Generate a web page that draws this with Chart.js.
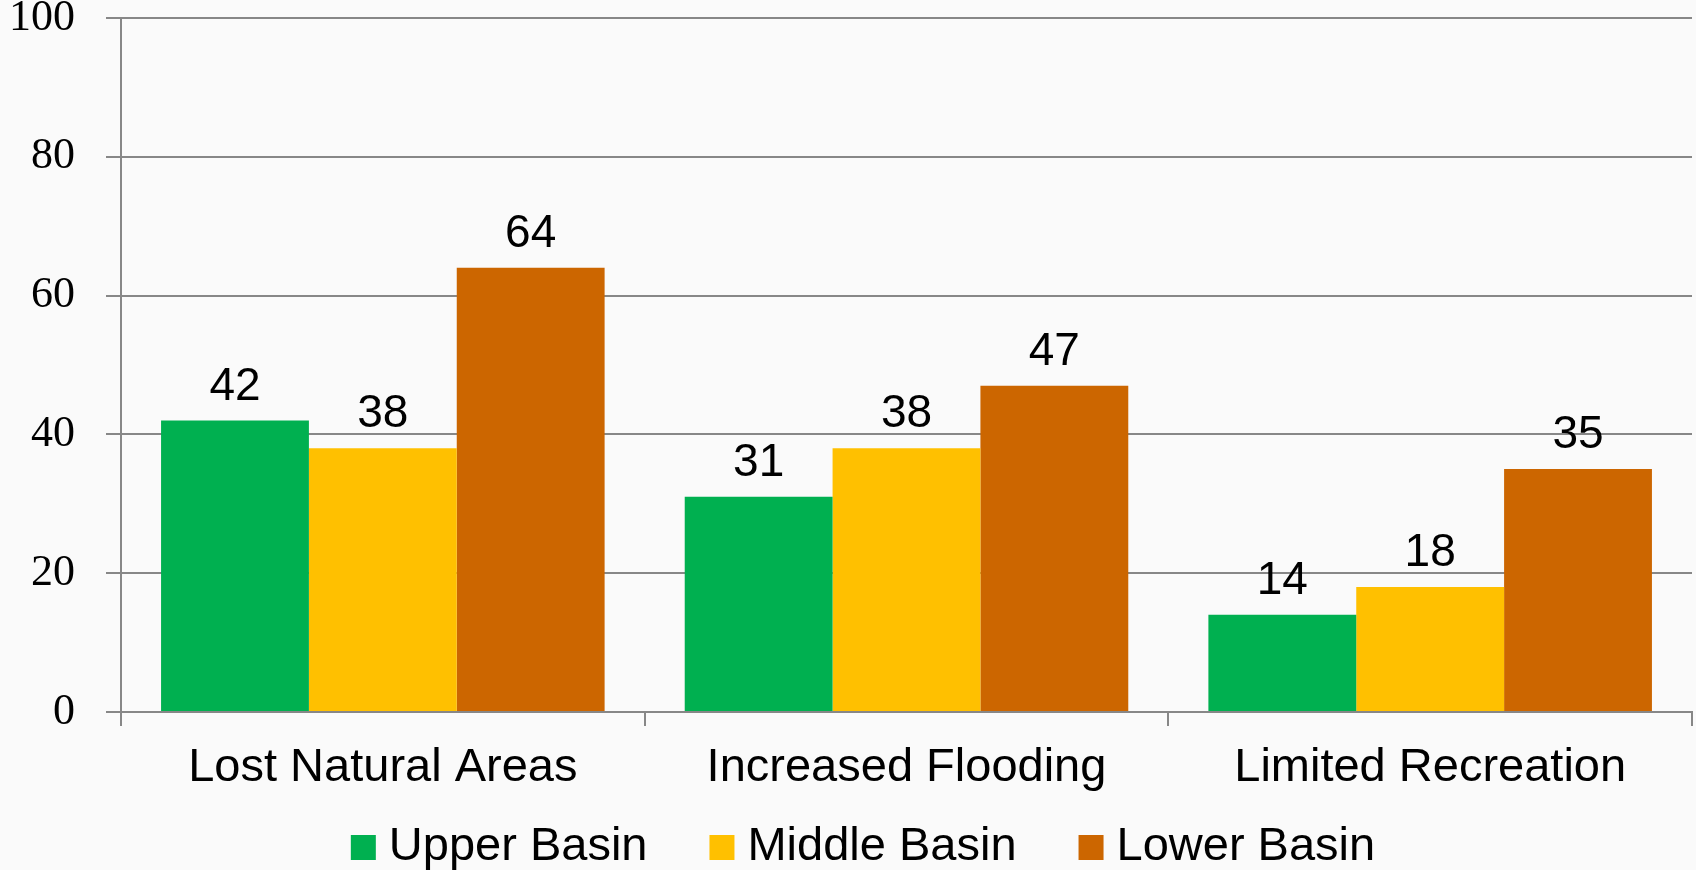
<!DOCTYPE html>
<html>
<head>
<meta charset="utf-8">
<script src="https://cdn.jsdelivr.net/npm/chart.js@4/dist/chart.umd.min.js"></script>
<style>
  html, body { margin: 0; padding: 0; background: #fafafa; overflow: hidden; }
  canvas { display: block; }
</style>
</head>
<body>
<canvas id="chart" width="1696" height="870"></canvas>
<script>
// Survey results by basin
const categories = ['Lost Natural Areas', 'Increased Flooding', 'Limited Recreation'];
const upperBasin = [42, 31, 14];
const middleBasin = [38, 38, 18];
const lowerBasin = [64, 47, 35];
const yTickValues = [0, 20, 40, 60, 80, 100];
const seriesNames = ['Upper Basin', 'Middle Basin', 'Lower Basin'];
const seriesColors = ['#00B050', '#FFC000', '#CC6600'];

const axisGray = '#878787';
const sansFamily = '"Liberation Sans", Arial, Helvetica, sans-serif';
const serifFamily = '"Liberation Serif", "Times New Roman", serif';

// Page background behind the plot
const backgroundFill = {
  id: 'backgroundFill',
  beforeDraw(chart) {
    const ctx = chart.ctx;
    ctx.save();
    ctx.fillStyle = '#fafafa';
    ctx.fillRect(0, 0, chart.width, chart.height);
    ctx.restore();
  }
};

// Value written above each bar
const valueLabels = {
  id: 'valueLabels',
  afterDatasetsDraw(chart) {
    const ctx = chart.ctx;
    ctx.save();
    ctx.font = '46px ' + sansFamily;
    ctx.fillStyle = '#000';
    ctx.textAlign = 'center';
    ctx.textBaseline = 'alphabetic';
    chart.data.datasets.forEach((ds, i) => {
      chart.getDatasetMeta(i).data.forEach((bar, j) => {
        ctx.fillText(String(ds.data[j]), bar.x, bar.y - 21);
      });
    });
    ctx.restore();
  }
};

// Series key along the bottom edge
const bottomLegend = {
  id: 'bottomLegend',
  afterDraw(chart) {
    const ctx = chart.ctx;
    const box = 25, textGap = 13, itemGap = 62, centerX = 863, boxTop = 835, baseline = 860;
    ctx.save();
    ctx.font = '47px ' + sansFamily;
    const items = chart.data.datasets.map(ds => ({
      text: ds.label, color: ds.backgroundColor, w: ctx.measureText(ds.label).width
    }));
    const total = items.reduce((s, it) => s + box + textGap + it.w, 0) + itemGap * (items.length - 1);
    let x = centerX - total / 2;
    ctx.textBaseline = 'alphabetic';
    ctx.textAlign = 'left';
    items.forEach(it => {
      ctx.fillStyle = it.color;
      ctx.fillRect(x, boxTop, box, box);
      ctx.fillStyle = '#000';
      ctx.fillText(it.text, x + box + textGap, baseline);
      x += box + textGap + it.w + itemGap;
    });
    ctx.restore();
  }
};

new Chart(document.getElementById('chart'), {
  type: 'bar',
  data: {
    labels: categories,
    datasets: [
      { label: seriesNames[0], data: upperBasin, backgroundColor: seriesColors[0] },
      { label: seriesNames[1], data: middleBasin, backgroundColor: seriesColors[1] },
      { label: seriesNames[2], data: lowerBasin, backgroundColor: seriesColors[2] }
    ]
  },
  options: {
    responsive: false,
    animation: false,
    devicePixelRatio: 1,
    categoryPercentage: 0.847,
    barPercentage: 1.0,
    layout: { padding: { top: 18, right: 4, bottom: 76, left: 0 } },
    plugins: {
      legend: { display: false },
      tooltip: { enabled: false }
    },
    scales: {
      x: {
        afterFit: s => { s.height = 82; s.paddingLeft = 0; s.paddingRight = 0; },
        border: { display: true, color: axisGray, width: 2 },
        grid: {
          display: true, drawOnChartArea: false, drawTicks: true,
          tickLength: 14, color: axisGray, lineWidth: 2, offset: true
        },
        ticks: { padding: 14, color: '#000', font: { family: sansFamily, size: 47 } }
      },
      y: {
        min: 0,
        max: 100,
        afterBuildTicks: s => { s.ticks = yTickValues.map(v => ({ value: v })); },
        afterFit: s => { s.width = 121; s.paddingTop = 0; s.paddingBottom = 0; },
        border: { display: true, color: axisGray, width: 2 },
        grid: { color: axisGray, lineWidth: 2, drawTicks: true, tickLength: 15 },
        ticks: {
          padding: 31, color: '#000',
          font: { family: serifFamily, size: 44 }
        }
      }
    }
  },
  plugins: [backgroundFill, valueLabels, bottomLegend]
});
</script>
</body>
</html>
